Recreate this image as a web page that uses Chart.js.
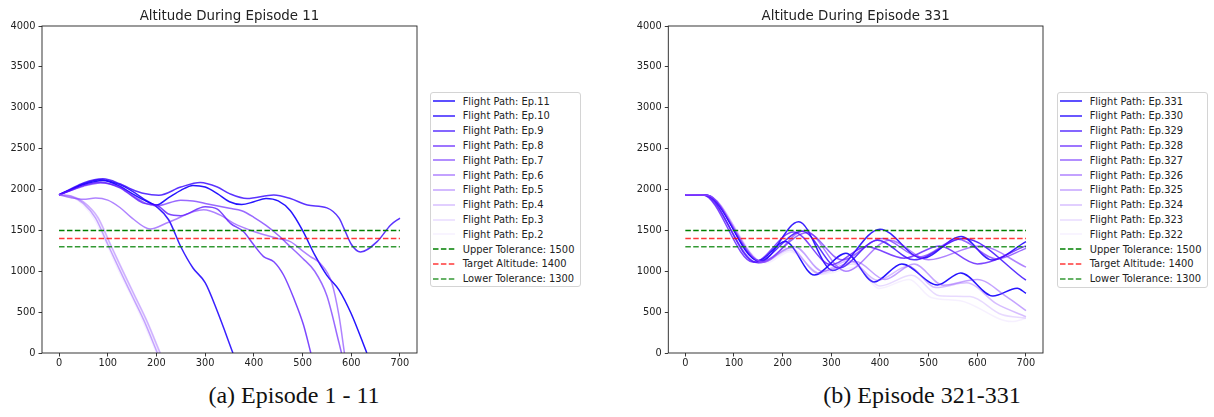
<!DOCTYPE html>
<html>
<head>
<meta charset="utf-8">
<script src="https://cdn.jsdelivr.net/npm/chart.js@4.4.1/dist/chart.umd.min.js"></script>
<style>
  html, body { margin: 0; padding: 0; background: #fff; }
  body { width: 1214px; height: 417px; position: relative; overflow: hidden; font-family: 'DejaVu Sans', sans-serif; }
  canvas { position: absolute; top: 0; }
  .legend { position: absolute; box-sizing: border-box; border: 1px solid #d4d4d4; border-radius: 3px; background: #fff; }
  .legend .row { position: absolute; left: 0; height: 15px; display: flex; align-items: center; font-size: 9.9px; color: #222; white-space: nowrap; }
  .legend svg { display: block; margin-left: 2px; margin-right: 7.7px; }
  .caption { position: absolute; top: 381px; line-height: 28px; font-family: 'Liberation Serif', 'Times New Roman', serif; font-size: 24px; color: #111; transform: translateX(-50%); white-space: nowrap; }
</style>
</head>
<body>
<canvas id="altLeft" width="425" height="372" style="left:0;width:425px;height:372px"></canvas>
<canvas id="altRight" width="430" height="372" style="left:620px;width:430px;height:372px"></canvas>
<div id="legLeft" class="legend" style="left:430px;top:92px;width:151px;height:195px"></div>
<div id="legRight" class="legend" style="left:1057px;top:92px;width:151px;height:196px"></div>
<div class="caption" style="left:294px">(a) Episode 1 - 11</div>
<div class="caption" style="left:922px">(b) Episode 321-331</div>

<script>
// ── axis ticks & reference levels ───────────────────────────────────────────
const xTicks = [0, 100, 200, 300, 400, 500, 600, 700];
const yTicks = [0, 500, 1000, 1500, 2000, 2500, 3000, 3500, 4000];
const tolLabels = ['Upper Tolerance: 1500', 'Target Altitude: 1400', 'Lower Tolerance: 1300'];
const tolValues = [1500, 1400, 1300];
const tolColors = ['rgba(0,128,0,1)', 'rgba(255,0,0,0.78)', 'rgba(0,128,0,0.8)'];

// newest episode first, fading out towards the oldest
const pathColors = [
  'rgba(20,0,255,0.92)', 'rgba(30,0,255,0.88)', 'rgba(50,0,255,0.80)',
  'rgba(75,0,255,0.72)', 'rgba(95,20,255,0.64)', 'rgba(110,30,255,0.55)',
  'rgba(125,50,255,0.45)', 'rgba(140,70,255,0.35)', 'rgba(160,100,255,0.24)',
  'rgba(180,130,255,0.12)',
];

// ── (a) episodes 2-11: [step, altitude] ─────────────────────────────────────
const leftEpisodes = ['Ep.11', 'Ep.10', 'Ep.9', 'Ep.8', 'Ep.7', 'Ep.6', 'Ep.5', 'Ep.4', 'Ep.3', 'Ep.2'];
const ep11 = [[0,1935],[25,2000],[50,2060],[90,2110],[125,2040],[150,1950],[175,1870],[200,1810],[225,1900],[250,1990],[275,2050],[300,2030],[325,1950],[350,1850],[375,1815],[400,1850],[425,1890],[450,1860],[475,1740],[500,1500],[525,1200],[550,950],[575,770],[600,480],[632,0]];
const ep10 = [[0,1935],[25,2000],[50,2070],[85,2120],[125,2060],[150,1980],[175,1880],[200,1790],[225,1630],[250,1300],[275,1040],[300,860],[325,510],[357,0]];
const ep9  = [[0,1935],[25,2010],[50,2080],[90,2130],[125,2070],[150,2000],[175,1950],[205,1930],[250,2030],[290,2086],[325,2030],[350,1950],[386,1890],[441,1933],[475,1890],[510,1810],[550,1775],[575,1650],[585,1525],[600,1330],[619,1235],[653,1362],[681,1566],[700,1650]];
const ep8  = [[0,1935],[25,1990],[50,2050],[85,2090],[125,2020],[150,1920],[175,1830],[200,1810],[225,1700],[250,1680],[300,1790],[325,1760],[352,1586],[379,1484],[400,1321],[420,1179],[441,1117],[461,954],[482,669],[502,343],[517,0]];
const ep7  = [[0,1935],[25,1990],[50,2040],[85,2080],[125,2030],[150,1930],[175,1840],[200,1800],[250,1870],[275,1860],[300,1830],[350,1770],[375,1740],[400,1660],[425,1560],[450,1440],[475,1300],[500,1160],[525,1000],[550,700],[575,120],[580,0]];
const ep6  = [[0,1935],[25,1900],[50,1880],[75,1895],[100,1870],[125,1780],[150,1650],[187,1517],[225,1600],[297,1751],[330,1690],[358,1588],[400,1486],[447,1404],[475,1363],[500,1250],[516,1180],[536,1098],[560,860],[575,450],[586,0]];
const ep5  = [[0,1935],[25,1915],[50,1830],[75,1650],[100,1330],[125,1010],[150,700],[175,390],[202,0]];
const ep4  = [[0,1935],[25,1920],[50,1850],[80,1660],[105,1340],[130,1020],[155,710],[180,400],[208,0]];
const ep3  = [[0,1935],[25,1918],[52,1840],[80,1640],[105,1320],[130,1000],[155,690],[180,380],[206,0]];
const ep2  = [[0,1935],[25,1912],[48,1820],[72,1640],[98,1330],[122,1010],[148,700],[172,390],[200,0]];
const leftPaths = [ep11, ep10, ep9, ep8, ep7, ep6, ep5, ep4, ep3, ep2];

// ── (b) episodes 322-331: [step, altitude] ──────────────────────────────────
const rightEpisodes = ['Ep.331', 'Ep.330', 'Ep.329', 'Ep.328', 'Ep.327', 'Ep.326', 'Ep.325', 'Ep.324', 'Ep.323', 'Ep.322'];
const ep331 = [[0,1935],[45,1930],[150,1130],[205,1365],[265,955],[330,1220],[388,870],[445,1090],[518,832],[566,980],[632,698],[682,793],[700,730]];
const ep330 = [[0,1935],[40,1935],[155,1120],[233,1605],[303,1010],[400,1515],[487,1158],[567,1425],[630,1138],[700,1362]];
const ep329 = [[0,1935],[40,1932],[145,1110],[240,1490],[315,1040],[395,1380],[470,1140],[572,1400],[700,890]];
const ep328 = [[0,1935],[35,1935],[140,1110],[222,1480],[300,1080],[372,1300],[450,1160],[522,1310],[600,1090],[700,1310]];
const ep327 = [[0,1935],[35,1935],[150,1100],[250,1470],[322,1140],[405,1400],[482,1175],[560,1390],[640,1150],[700,1280]];
const ep326 = [[0,1935],[40,1935],[160,1110],[245,1500],[330,1000],[420,1380],[500,1140],[605,1310],[700,1050]];
const ep325 = [[0,1935],[45,1930],[155,1120],[225,1300],[282,1000],[350,1120],[410,900],[470,1090],[530,830],[600,900],[660,690],[700,518]];
const ep324 = [[0,1935],[45,1930],[160,1110],[215,1290],[272,980],[338,1130],[395,890],[458,1060],[515,800],[578,860],[640,600],[700,445]];
const ep323 = [[0,1935],[45,1930],[160,1110],[215,1260],[277,970],[345,1090],[400,820],[465,950],[522,700],[585,690],[650,470],[700,428]];
const ep322 = [[0,1935],[45,1930],[165,1100],[215,1240],[280,960],[350,1050],[398,790],[460,900],[505,680],[565,640],[671,384],[700,424]];
const rightPaths = [ep331, ep330, ep329, ep328, ep327, ep326, ep325, ep324, ep323, ep322];

// ── dataset helpers ─────────────────────────────────────────────────────────
const DASH = [5.5, 2.4];

function pathDataset(label, pts, color) {
  return {
    label,
    data: pts.map(([x, y]) => ({ x, y })),
    borderColor: color,
    borderWidth: 1.5,
    pointRadius: 0,
    cubicInterpolationMode: 'monotone',
    fill: false,
  };
}

function tolDataset(i) {
  const x0 = xTicks[0], x1 = xTicks[xTicks.length - 1];
  return {
    label: tolLabels[i],
    data: [{ x: x0, y: tolValues[i] }, { x: x1, y: tolValues[i] }],
    borderColor: tolColors[i],
    borderWidth: 1.5,
    borderDash: DASH,
    pointRadius: 0,
    fill: false,
  };
}

// Chart.js draws dataset 0 on top, so tolerance lines go first,
// then flight paths from oldest to newest (newest ends up underneath)
function buildDatasets(names, paths) {
  const sets = tolValues.map((_, i) => tolDataset(i));
  for (let i = paths.length - 1; i >= 0; i--) {
    sets.push(pathDataset('Flight Path: ' + names[i], paths[i], pathColors[i]));
  }
  return sets;
}

// ── plot frame (all four spines) ────────────────────────────────────────────
const framePlugin = {
  id: 'frame',
  afterDraw(chart) {
    const { ctx, chartArea: a } = chart;
    ctx.save();
    ctx.strokeStyle = '#222';
    ctx.lineWidth = 0.9;
    ctx.strokeRect(a.left, a.top, a.right - a.left, a.bottom - a.top);
    ctx.restore();
  },
};

const TICK_FONT = { family: "'DejaVu Sans', sans-serif", size: 9.8 };

function chartOptions(title, yWidth, rightPad) {
  const tickGrid = { display: true, drawOnChartArea: false, drawTicks: true, tickLength: 3.5, color: '#222', lineWidth: 0.9 };
  return {
    responsive: false,
    animation: false,
    events: [],
    layout: { padding: { top: 0, right: rightPad, bottom: 0, left: 0 } },
    plugins: {
      legend: { display: false },
      tooltip: { enabled: false },
      title: {
        display: true,
        text: title,
        fullSize: false,
        color: '#222',
        font: { family: "'DejaVu Sans', sans-serif", size: 13.4, weight: 'normal', lineHeight: 1.2 },
        padding: { top: 8.5, bottom: 1.42 },
      },
    },
    scales: {
      x: {
        type: 'linear',
        min: -35,
        max: 735,
        afterBuildTicks: s => { s.ticks = xTicks.map(v => ({ value: v })); },
        afterFit: s => { s.height = 19; },
        grid: tickGrid,
        border: { display: false },
        ticks: { color: '#222', font: TICK_FONT, padding: 1.5, maxRotation: 0, callback: v => String(v) },
      },
      y: {
        type: 'linear',
        min: 0,
        max: 4000,
        afterBuildTicks: s => { s.ticks = yTicks.map(v => ({ value: v })); },
        afterFit: s => { s.width = yWidth; },
        grid: tickGrid,
        border: { display: false },
        ticks: { color: '#222', font: TICK_FONT, padding: 3, callback: v => String(v) },
      },
    },
  };
}

// ── HTML legend, built from the chart's own datasets ────────────────────────
function buildLegend(el, chart, names) {
  const sets = chart.data.datasets;
  const byLabel = {};
  sets.forEach(d => { byLabel[d.label] = d; });
  const order = names.map(n => 'Flight Path: ' + n).concat(tolLabels);
  order.forEach((label, i) => {
    const d = byLabel[label];
    const row = document.createElement('div');
    row.className = 'row';
    row.style.top = (0.6 + i * 14.8) + 'px';
    const dash = d.borderDash ? ` stroke-dasharray="${d.borderDash.join(' ')}"` : '';
    row.innerHTML =
      `<svg width="22" height="4"><line x1="0" y1="2" x2="22" y2="2" stroke="${d.borderColor}" stroke-width="1.5"${dash}/></svg>` +
      `<span>${label}</span>`;
    el.appendChild(row);
  });
}

const leftChart = new Chart(document.getElementById('altLeft'), {
  type: 'line',
  data: { datasets: buildDatasets(leftEpisodes, leftPaths) },
  options: chartOptions('Altitude During Episode 11', 42, 8),
  plugins: [framePlugin],
});

const rightChart = new Chart(document.getElementById('altRight'), {
  type: 'line',
  data: { datasets: buildDatasets(rightEpisodes, rightPaths) },
  options: chartOptions('Altitude During Episode 331', 48.3, 7),
  plugins: [framePlugin],
});

buildLegend(document.getElementById('legLeft'), leftChart, leftEpisodes);
buildLegend(document.getElementById('legRight'), rightChart, rightEpisodes);
</script>
</body>
</html>
